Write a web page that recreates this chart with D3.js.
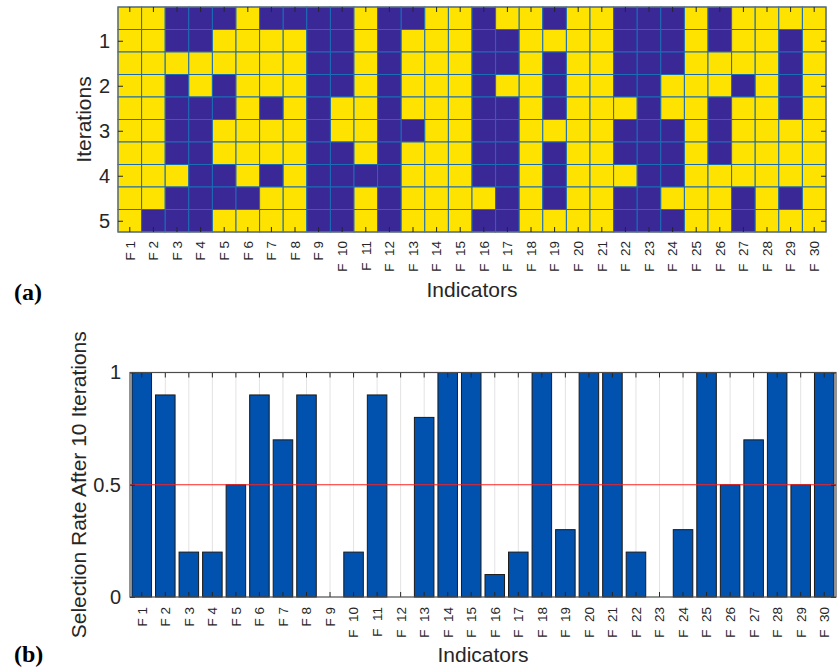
<!DOCTYPE html>
<html><head><meta charset="utf-8">
<script src="https://cdn.jsdelivr.net/npm/d3@7"></script>
<style>body{margin:0;background:#fff}</style>
</head><body><svg id="c" width="838" height="668"></svg>
<script>
// ---- data ----
const indicators = ["F 1","F 2","F 3","F 4","F 5","F 6","F 7","F 8","F 9","F 10",
  "F 11","F 12","F 13","F 14","F 15","F 16","F 17","F 18","F 19","F 20",
  "F 21","F 22","F 23","F 24","F 25","F 26","F 27","F 28","F 29","F 30"];
const iterationRows = [0.5,1,1.5,2,2.5,3,3.5,4,4.5,5];
const iterationTicks = [1,2,3,4,5];
// 1 = selected (yellow), 0 = not selected (blue); one string per row, top to bottom
const selectionGrid = [
  "110001000010011011011000101111",
  "110011110010111001111000101101",
  "111111110010111001011000111101",
  "110101110010111011011001110101",
  "110001010110111001011101101101",
  "110011110110011001111000101111",
  "110011110010111001011000101111",
  "111001010000111001011100111111",
  "110000110010111101011001110101",
  "100011110010111001111000110111"
];
const selectionRate = [1,0.9,0.2,0.2,0.5,0.9,0.7,0.9,0,0.2,
  0.9,0,0.8,1,1,0.1,0.2,1,0.3,1,
  1,0.2,0,0.3,1,0.5,0.7,1,0.5,1];
const rateTicks = [0,0.5,1];
const threshold = 0.5;

// ---- styles ----
const FONT = "Arial, 'Liberation Sans', sans-serif";
const TXT = "#262626";
const YELLOW = "#FEE300", PURPLE = "#3A2896", EDGE = "#1a6cb5";
const XFS = 13.5;
const svg = d3.select("#c");

function styleAxis(g, fs){
  g.attr("font-size", null).attr("font-family", null);
  g.select(".domain").remove();
  g.selectAll("line").attr("stroke", "#262626");
  g.selectAll("text").attr("fill", TXT).attr("font-family", FONT).attr("font-size", fs)
    .style("font-family", FONT).style("font-size", fs + "px");
}
function rotatedLabels(g, gap){
  g.selectAll(".tick text").each(function(d){
    const p = d.split(" ");
    d3.select(this)
      .attr("transform", "rotate(-90)").attr("x", -gap).attr("y", 0)
      .attr("dy", "0.36em").style("text-anchor", "end")
      .style("font-family", FONT).style("font-size", XFS + "px").attr("fill", TXT)
      .text(p[0] + (p[1].length > 1 ? "\u00a0\u00a0" : "\u00a0") + p[1]);
  });
}

// ================= (a) heatmap =================
const H = {l:118, r:826, t:7, b:232};
const hx = d3.scaleBand().domain(indicators).range([H.l, H.r]);
const hy = d3.scaleLinear().domain([0.25, 5.25]).range([H.t, H.b]);
const rowH = hy(0.5) - hy(0);
const ga = svg.append("g");

const cells = [];
selectionGrid.forEach((row, i) => {
  row.split("").forEach((v, j) => cells.push({r: iterationRows[i], c: indicators[j], v: +v}));
});
ga.selectAll("rect.cell").data(cells).join("rect")
  .attr("x", d => hx(d.c)).attr("y", d => hy(d.r) - rowH/2)
  .attr("width", hx.bandwidth()).attr("height", rowH)
  .attr("fill", d => d.v ? YELLOW : PURPLE)
  .attr("stroke", EDGE).attr("stroke-width", 1);

ga.append("rect").attr("x", H.l).attr("y", H.t).attr("width", H.r - H.l).attr("height", H.b - H.t)
  .attr("fill", "none").attr("stroke", "#6e6e6e").attr("stroke-width", 1.2);

const axB = ga.append("g").attr("transform", `translate(0,${H.b})`)
  .call(d3.axisBottom(hx).tickSize(-5).tickPadding(0));
styleAxis(axB, XFS);
rotatedLabels(axB, 9);
const axT = ga.append("g").attr("transform", `translate(0,${H.t})`)
  .call(d3.axisTop(hx).tickSize(-5).tickFormat(""));
styleAxis(axT, XFS);
const axL = ga.append("g").attr("transform", `translate(${H.l},0)`)
  .call(d3.axisLeft(hy).tickValues(iterationTicks).tickSize(-5).tickPadding(8).tickFormat(d3.format("d")));
styleAxis(axL, 20);
const axR = ga.append("g").attr("transform", `translate(${H.r},0)`)
  .call(d3.axisRight(hy).tickValues(iterationTicks).tickSize(-5).tickFormat(""));
styleAxis(axR, 20);

ga.append("text").attr("transform", `translate(91,${(H.t + H.b)/2}) rotate(-90)`)
  .attr("text-anchor", "middle").attr("fill", TXT).style("font-family", FONT).style("font-size", "21px")
  .text("Iterations");
ga.append("text").attr("x", (H.l + H.r)/2).attr("y", 297)
  .attr("text-anchor", "middle").attr("fill", TXT).style("font-family", FONT).style("font-size", "21px")
  .text("Indicators");
svg.append("text").attr("x", 14).attr("y", 300)
  .style("font-family", "'Times New Roman', 'Liberation Serif', serif").style("font-weight", "bold")
  .style("font-size", "24px").attr("fill", "#000").text("(a)");

// ================= (b) bar chart =================
const B = {l:130, r:836, t:372.5, b:597};
const bx = d3.scaleBand().domain(indicators).range([B.l, B.r]).paddingInner(0.17).paddingOuter(0.085);
const by = d3.scaleLinear().domain([0, 1]).range([B.b, B.t]);
const gb = svg.append("g");
const cx = d => bx(d) + bx.bandwidth()/2;

gb.selectAll("line.grid").data(indicators).join("line")
  .attr("x1", cx).attr("x2", cx).attr("y1", B.t).attr("y2", B.b)
  .attr("stroke", "#e3e3e3").attr("stroke-width", 1);

gb.selectAll("rect.bar").data(selectionRate.map((v, i) => ({k: indicators[i], v})).filter(d => d.v > 0)).join("rect")
  .attr("x", d => bx(d.k)).attr("y", d => by(d.v))
  .attr("width", bx.bandwidth()).attr("height", d => by(0) - by(d.v))
  .attr("fill", "#0052AE").attr("stroke", "#1a1a1a").attr("stroke-width", 1);

gb.append("line").attr("x1", B.l).attr("x2", B.r).attr("y1", by(threshold)).attr("y2", by(threshold))
  .attr("stroke", "#ff2020").attr("stroke-width", 1.2);

const bB = gb.append("g").attr("transform", `translate(0,${B.b})`)
  .call(d3.axisBottom(bx).tickSize(-5).tickPadding(0));
styleAxis(bB, XFS);
rotatedLabels(bB, 10);
const bT = gb.append("g").attr("transform", `translate(0,${B.t})`)
  .call(d3.axisTop(bx).tickSize(-5).tickFormat(""));
styleAxis(bT, XFS);
const bL = gb.append("g").attr("transform", `translate(${B.l},0)`)
  .call(d3.axisLeft(by).tickValues(rateTicks).tickSize(-5).tickPadding(9).tickFormat(d => d === 0.5 ? "0.5" : d3.format("d")(d)));
styleAxis(bL, 20);
const bR = gb.append("g").attr("transform", `translate(${B.r},0)`)
  .call(d3.axisRight(by).tickValues(rateTicks).tickSize(-5).tickFormat(""));
styleAxis(bR, 20);

gb.append("rect").attr("x", B.l).attr("y", B.t).attr("width", B.r - B.l).attr("height", B.b - B.t)
  .attr("fill", "none").attr("stroke", "#4d4d4d").attr("stroke-width", 1.2);

gb.append("text").attr("transform", `translate(86,${(B.t + B.b)/2}) rotate(-90)`)
  .attr("text-anchor", "middle").attr("fill", TXT).style("font-family", FONT).style("font-size", "21px")
  .text("Selection Rate After 10 Iterations");
gb.append("text").attr("x", (B.l + B.r)/2).attr("y", 662)
  .attr("text-anchor", "middle").attr("fill", TXT).style("font-family", FONT).style("font-size", "21px")
  .text("Indicators");
svg.append("text").attr("x", 14).attr("y", 662)
  .style("font-family", "'Times New Roman', 'Liberation Serif', serif").style("font-weight", "bold")
  .style("font-size", "24px").attr("fill", "#000").text("(b)");
</script></body></html>
